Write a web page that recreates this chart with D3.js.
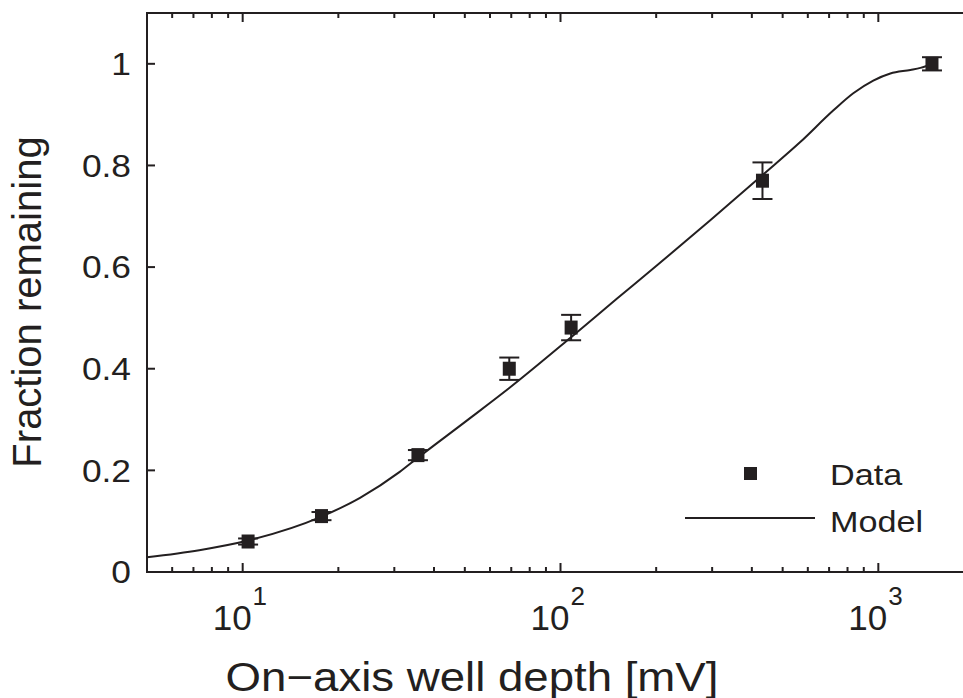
<!DOCTYPE html>
<html>
<head>
<meta charset="utf-8">
<script src="https://cdn.jsdelivr.net/npm/d3@7"></script>
<style>
  body { margin: 0; background: #fff; overflow: hidden; }
  text { font-family: "Liberation Sans", Arial, Helvetica, sans-serif; fill: #231f20; }
</style>
</head>
<body>
<svg id="chart" width="963" height="698"></svg>
<script>
"use strict";

// measured data: well depth [mV], fraction remaining, error
var depth = [10.4, 17.7, 35.6, 69, 108, 432, 1475];
var fraction = [0.06, 0.11, 0.23, 0.40, 0.481, 0.77, 1.0];
var err = [0.006, 0.008, 0.01, 0.022, 0.025, 0.036, 0.013];

// model curve
var model_depth = [5, 7.3, 10.4, 17.7, 23.4, 31.2, 35.6, 50, 69, 108, 150, 200, 296, 434, 568, 721, 834, 964, 1091, 1262, 1356, 1490];
var model_fraction = [0.029, 0.043, 0.062, 0.109, 0.146, 0.197, 0.225, 0.295, 0.362, 0.462, 0.537, 0.602, 0.692, 0.782, 0.846, 0.908, 0.942, 0.967, 0.981, 0.988, 0.992, 1.0];

var y_ticks = [0, 0.2, 0.4, 0.6, 0.8, 1];
var x_decades = [1, 2, 3];

(function () {
  var ink = "#231f20";
  var pl = 147, pr = 974, pt = 13, pb = 572;
  var sx = 1.14; // the source figure is a bit wider than tall

  var svg = d3.select("#chart");

  var x = d3.scaleLog().domain([5, 2000]).range([pl, pr]);
  var y = d3.scaleLinear().domain([0, 1.1]).range([pb, pt]);

  // minor ticks for log axis
  var minor = [];
  [1, 10, 100, 1000].forEach(function (p) {
    for (var k = 2; k <= 9; k++) {
      var v = k * p;
      if (v > 5 && v < 2000) minor.push(v);
    }
  });
  var major = x_decades.map(function (e) { return Math.pow(10, e); });

  var axes = svg.append("g").attr("stroke", ink).attr("stroke-width", 2);

  // frame (right side falls outside the window)
  axes.append("rect")
    .attr("x", pl).attr("y", pt)
    .attr("width", pr - pl).attr("height", pb - pt)
    .attr("fill", "none");

  // bottom / top ticks
  minor.forEach(function (v) {
    axes.append("line").attr("x1", x(v)).attr("x2", x(v)).attr("y1", pb).attr("y2", pb - 5);
    axes.append("line").attr("x1", x(v)).attr("x2", x(v)).attr("y1", pt).attr("y2", pt + 5);
  });
  major.forEach(function (v) {
    axes.append("line").attr("x1", x(v)).attr("x2", x(v)).attr("y1", pb).attr("y2", pb - 9);
    axes.append("line").attr("x1", x(v)).attr("x2", x(v)).attr("y1", pt).attr("y2", pt + 9);
  });
  y_ticks.forEach(function (v) {
    axes.append("line").attr("x1", pl).attr("x2", pl + 8).attr("y1", y(v)).attr("y2", y(v));
    axes.append("line").attr("x1", pr).attr("x2", pr - 8).attr("y1", y(v)).attr("y2", y(v));
  });

  // y tick labels
  svg.selectAll(".ylab")
    .data(y_ticks)
    .enter()
    .append("text")
    .attr("class", "ylab")
    .attr("transform", function (d) {
      return "translate(131," + y(d) + ") scale(" + sx + ",1)";
    })
    .attr("dy", "0.36em")
    .attr("text-anchor", "end")
    .style("font-size", "31px")
    .text(function (d) { return d; });

  // x tick labels 10^n
  var xl = svg.selectAll(".xlab")
    .data(x_decades)
    .enter()
    .append("text")
    .attr("class", "xlab")
    .attr("x", function (d) { return x(Math.pow(10, d)) - 30; })
    .attr("y", 630)
    .style("font-size", "35px");
  xl.append("tspan").text("10");
  xl.append("tspan")
    .attr("dx", "1")
    .attr("dy", "-25")
    .style("font-size", "26px")
    .text(function (d) { return d; });

  // axis titles
  svg.append("text")
    .attr("transform", "translate(472,691) scale(" + sx + ",1)")
    .attr("text-anchor", "middle")
    .style("font-size", "40px")
    .text("On\u2212axis well depth [mV]");

  svg.append("text")
    .attr("transform", "translate(41,302) rotate(-90)")
    .attr("text-anchor", "middle")
    .style("font-size", "40px")
    .text("Fraction remaining");

  // model curve
  var line = d3.line()
    .x(function (d) { return x(d[0]); })
    .y(function (d) { return y(d[1]); })
    .curve(d3.curveMonotoneX);

  svg.append("path")
    .datum(d3.zip(model_depth, model_fraction))
    .attr("d", line)
    .attr("fill", "none")
    .attr("stroke", ink)
    .attr("stroke-width", 2);

  // data with error bars
  var pts = svg.selectAll(".pt")
    .data(d3.range(depth.length))
    .enter()
    .append("g")
    .attr("class", "pt")
    .attr("stroke", ink)
    .attr("stroke-width", 2);

  pts.append("line")
    .attr("x1", function (i) { return x(depth[i]); })
    .attr("x2", function (i) { return x(depth[i]); })
    .attr("y1", function (i) { return y(fraction[i] - err[i]); })
    .attr("y2", function (i) { return y(fraction[i] + err[i]); });
  [-1, 1].forEach(function (s) {
    pts.append("line")
      .attr("x1", function (i) { return x(depth[i]) - 10; })
      .attr("x2", function (i) { return x(depth[i]) + 10; })
      .attr("y1", function (i) { return y(fraction[i] + s * err[i]); })
      .attr("y2", function (i) { return y(fraction[i] + s * err[i]); });
  });
  pts.append("rect")
    .attr("x", function (i) { return x(depth[i]) - 6.5; })
    .attr("y", function (i) { return y(fraction[i]) - 7; })
    .attr("width", 13)
    .attr("height", 14)
    .attr("fill", ink)
    .attr("stroke", "none");

  // legend
  var legend = svg.append("g");
  legend.append("rect")
    .attr("x", 744).attr("y", 467).attr("width", 13).attr("height", 13)
    .attr("fill", ink);
  legend.append("line")
    .attr("x1", 685).attr("x2", 815).attr("y1", 518).attr("y2", 518)
    .attr("stroke", ink).attr("stroke-width", 2);
  legend.append("text")
    .attr("transform", "translate(830,485) scale(" + sx + ",1)")
    .style("font-size", "30px")
    .text("Data");
  legend.append("text")
    .attr("transform", "translate(830,532) scale(" + sx + ",1)")
    .style("font-size", "30px")
    .text("Model");
})();
</script>
</body>
</html>
